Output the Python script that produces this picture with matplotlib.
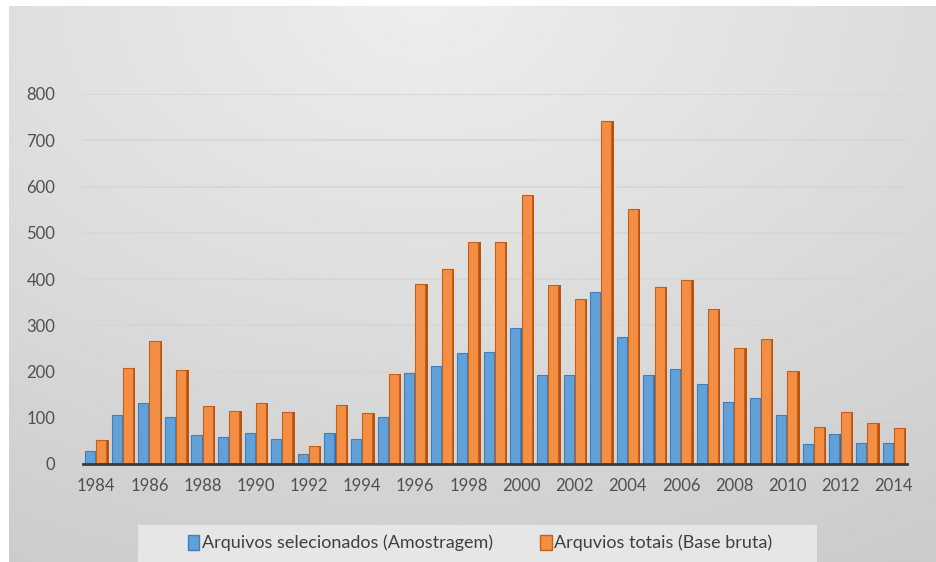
#!/usr/bin/env python3
"""Arquivos selecionados vs arquivos totais por ano (1984-2014)."""

import numpy as np
import matplotlib
matplotlib.use('Agg')
import matplotlib.pyplot as plt
from matplotlib.patches import Patch, Rectangle

# Data
years = list(range(1984, 2015))
selecionados = [29, 106, 132, 102, 63, 58, 68, 55, 22, 68, 54, 102, 197, 212, 240, 243,
                293, 193, 192, 372, 275, 193, 206, 174, 133, 142, 106, 43, 64, 46, 46]
totais = [52, 208, 266, 203, 125, 115, 131, 112, 40, 127, 110, 195, 389, 422, 481, 480,
          582, 386, 356, 742, 551, 383, 398, 335, 250, 270, 201, 81, 113, 88, 77]
yticks = [0, 100, 200, 300, 400, 500, 600, 700, 800]
xticks = list(range(1984, 2015, 2))
labels = ['Arquivos selecionados (Amostragem)', 'Arquvios totais (Base bruta)']

W, H = 936, 562
plt.rcParams['font.family'] = ['Lato', 'DejaVu Sans']

fig = plt.figure(figsize=(W / 100, H / 100), dpi=100)
fig.patch.set_facecolor('white')

# Gradient background (light centre-top, darker towards the edges)
bg = fig.add_axes([9 / W, 0, 1 - 9 / W, 1 - 6 / H])
yy, xx = np.mgrid[0:1:200j, 0:1:300j]
dist = np.sqrt(((xx - 0.45) * 1.1) ** 2 + (yy * 1.0) ** 2)
shade = 0.93 - 0.14 * np.clip(dist, 0, 1.2) / 1.2
bg.imshow(shade, cmap='gray', vmin=0, vmax=1, aspect='auto',
          extent=[0, 1, 0, 1], origin='upper')
bg.set_axis_off()

# Legend panel
fig.patches.append(Rectangle((138 / W, 0), (817 - 138) / W, (562 - 525) / H,
                             transform=fig.transFigure, facecolor='#e6e6e6',
                             edgecolor='none', zorder=1))

left, right = 83, 907
ax = fig.add_axes([left / W, 1 - 464 / H, (right - left) / W, (464 - 94) / H])
ax.patch.set_alpha(0)

x = np.array(years)
w = 0.42
# dark side faces for a slight 3D look
ax.bar(x - w / 2 + 0.05, selecionados, w, color='#2f6fae', edgecolor='none', zorder=2)
ax.bar(x + w / 2 + 0.05, totais, w, color='#b9520f', edgecolor='none', zorder=2)
ax.bar(x - w / 2 - 0.02, selecionados, w * 0.9, color='#62a0d8', edgecolor='#3d80c0',
       linewidth=0.8, zorder=3)
ax.bar(x + w / 2 - 0.02, totais, w * 0.9, color='#f28f45', edgecolor='#c95f15',
       linewidth=0.8, zorder=3)

ax.set_xlim(1983.5, 2014.5)
ax.set_ylim(0, 800)
ax.set_yticks(yticks)
ax.set_xticks(xticks)
ax.tick_params(axis='both', length=0, labelsize=12, colors='#505050')
ax.tick_params(axis='x', pad=10)
ax.tick_params(axis='y', pad=20)
ax.grid(axis='y', color='#d6d6d6', linewidth=1.2, zorder=0)
ax.set_axisbelow(True)
for s in ['top', 'right', 'left']:
    ax.spines[s].set_visible(False)
ax.spines['bottom'].set_color('#3a3a3a')
ax.spines['bottom'].set_linewidth(2)
ax.spines['bottom'].set_zorder(4)

handles = [Patch(facecolor='#62a0d8', edgecolor='#3d80c0'),
           Patch(facecolor='#f28f45', edgecolor='#c95f15')]
fig.legend(handles, labels, loc='center', bbox_to_anchor=(480 / W, 1 - 543 / H),
           ncol=2, frameon=False, fontsize=13, handlelength=0.65, handleheight=0.9,
           handletextpad=0.15, columnspacing=2.6, labelcolor='#404040')

fig.savefig('out.png', dpi=100)
